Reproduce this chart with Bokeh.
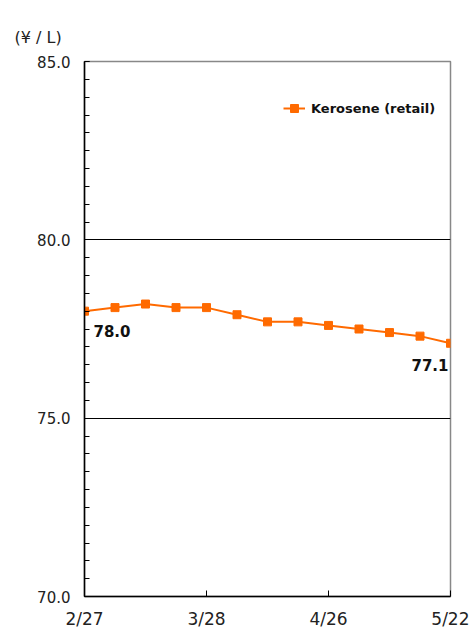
import numpy as np
from bokeh.plotting import figure
from bokeh.models import (Range1d, FixedTicker, PrintfTickFormatter, ColumnDataSource, Legend, LegendItem)
from bokeh.core.properties import value
from bokeh.embed import file_html
from bokeh.resources import INLINE

# --- data ---
x_labels = ["2/27", "", "", "", "3/28", "", "", "", "4/26", "", "", "", "5/22"]
kerosene = [78.0, 78.1, 78.2, 78.1, 78.1, 77.9, 77.7, 77.7, 77.6, 77.5, 77.4, 77.3, 77.1]
series_name = "Kerosene (retail)"
unit_label = "(¥ / L)"
y_major = [70, 75, 80, 85]

FONT = "DejaVu Sans"
ORANGE = "#FF6A00"

idx = list(range(len(kerosene)))

p = figure(width=469, height=634, output_backend="svg", toolbar_location=None,
           x_range=Range1d(0, len(kerosene) - 1), y_range=Range1d(70, 85),
           min_border_left=84, min_border_right=19, min_border_top=61, min_border_bottom=38)
p.background_fill_color = "white"
p.border_fill_color = "white"
p.outline_line_color = "#888888"
p.outline_line_width = 1.5

# title (unit)
p.title.text = unit_label
p.title.text_font = FONT
p.title.text_font_size = "16px"
p.title.text_font_style = "normal"
p.title.text_color = "#222222"
p.title.align = "left"
p.title.offset = -70
p.title.standoff = 30

# y axis
p.yaxis.ticker = FixedTicker(ticks=y_major, minor_ticks=list(np.arange(70, 85.01, 0.5)))
p.yaxis.formatter = PrintfTickFormatter(format="%.1f")
p.yaxis.major_tick_in = 5
p.yaxis.major_tick_out = 0
p.yaxis.minor_tick_in = 5
p.yaxis.minor_tick_out = 0
p.yaxis.axis_line_color = "black"
p.yaxis.axis_line_width = 1.5
p.yaxis.major_label_text_font = FONT
p.yaxis.major_label_text_font_size = "15px"
p.yaxis.major_label_text_color = "#222222"
p.yaxis.major_label_standoff = 14

# x axis
tick_pos = [i for i, l in enumerate(x_labels) if l]
p.xaxis.ticker = FixedTicker(ticks=tick_pos)
p.xaxis.major_label_overrides = {i: x_labels[i] for i in tick_pos}
p.xaxis.major_tick_in = 6
p.xaxis.major_tick_out = 0
p.xaxis.minor_tick_line_color = None
p.xaxis.axis_line_color = "black"
p.xaxis.axis_line_width = 1.5
p.xaxis.major_label_text_font = FONT
p.xaxis.major_label_text_font_size = "17px"
p.xaxis.major_label_text_color = "#222222"
p.xaxis.major_label_standoff = 12

# grid
p.xgrid.grid_line_color = None
p.ygrid.ticker = FixedTicker(ticks=[75, 80, 85])
p.ygrid.grid_line_color = "black"
p.ygrid.grid_line_width = 1

src = ColumnDataSource(dict(x=idx, y=kerosene))
ln = p.line("x", "y", source=src, line_color=ORANGE, line_width=2)
sc = p.scatter("x", "y", source=src, marker="square", size=8, fill_color=ORANGE, line_color=ORANGE)

# value labels (first and last)
p.text([idx[0]], [kerosene[0]], text=[f"{kerosene[0]:.1f}"], text_align="left", text_baseline="middle",
       x_offset=9, y_offset=20, text_font=value(FONT), text_font_size="15px",
       text_font_style="bold", text_color="#111111")
p.text([idx[-1]], [kerosene[-1]], text=[f"{kerosene[-1]:.1f}"], text_align="right", text_baseline="middle",
       x_offset=-2, y_offset=22, text_font=value(FONT), text_font_size="15px",
       text_font_style="bold", text_color="#111111")

legend = Legend(items=[LegendItem(label=series_name, renderers=[ln, sc])],
                location=(199, 478), border_line_color=None, background_fill_alpha=0,
                label_text_font=FONT, label_text_font_size="13px", label_text_font_style="bold",
                label_text_color="#111111",
                glyph_width=22, padding=4, margin=0, label_standoff=6)
p.add_layout(legend)

open("out.html", "w").write(file_html(p, INLINE))
